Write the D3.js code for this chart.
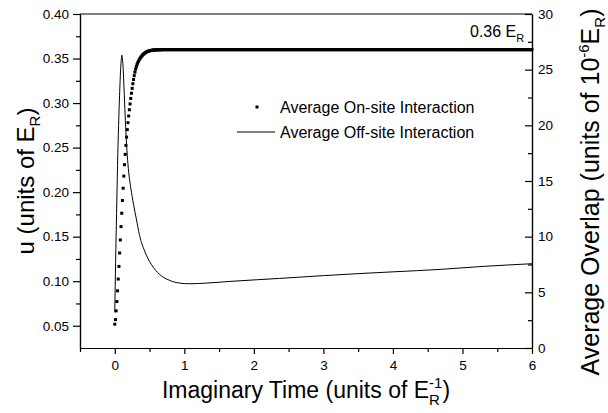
<!DOCTYPE html>
<html>
<head>
<meta charset="utf-8">
<script src="https://cdn.jsdelivr.net/npm/d3@7"></script>
<style>
  html, body { margin: 0; padding: 0; background: #fff; }
  svg { display: block; font-family: "Liberation Sans", Arial, sans-serif; }
</style>
</head>
<body>
<svg id="chart" width="608" height="413"></svg>
<script>
// Imaginary-time sampling step of the on-site series
const tStep = 0.01;

// Average on-site interaction u (E_R), t = 0.00 ... 0.70
const onsiteRamp = [
  0.0517, 0.0569, 0.0667, 0.0772, 0.0892, 0.1024, 0.1166, 0.1317, 0.1463, 0.1613,
  0.1763, 0.1906, 0.2044, 0.2180, 0.2308, 0.2424, 0.2525, 0.2618, 0.2702, 0.2780,
  0.2855, 0.2925, 0.2990, 0.3052, 0.3110, 0.3165, 0.3217, 0.3265, 0.3308, 0.3347,
  0.3380, 0.3408, 0.3432, 0.3452, 0.3469, 0.3484, 0.3497, 0.3509, 0.3520, 0.3530,
  0.3539, 0.3547, 0.3554, 0.3560, 0.3566, 0.3571, 0.3575, 0.3579, 0.3582, 0.3585,
  0.3587, 0.3589, 0.3591, 0.3592, 0.3593, 0.3594, 0.3595, 0.3596, 0.3597, 0.3597,
  0.3598, 0.3598, 0.3598, 0.3599, 0.3599, 0.3599, 0.3599, 0.3599, 0.3600, 0.3600,
  0.3600
];

// Average on-site interaction u (E_R), t = 0.71 ... 6.00 (converged)
const onsitePlateau = [
  // t 0.71 - 1.70
  .36,.36,.36,.36,.36,.36,.36,.36,.36,.36, .36,.36,.36,.36,.36,.36,.36,.36,.36,.36,
  .36,.36,.36,.36,.36,.36,.36,.36,.36,.36, .36,.36,.36,.36,.36,.36,.36,.36,.36,.36,
  .36,.36,.36,.36,.36,.36,.36,.36,.36,.36, .36,.36,.36,.36,.36,.36,.36,.36,.36,.36,
  .36,.36,.36,.36,.36,.36,.36,.36,.36,.36, .36,.36,.36,.36,.36,.36,.36,.36,.36,.36,
  .36,.36,.36,.36,.36,.36,.36,.36,.36,.36, .36,.36,.36,.36,.36,.36,.36,.36,.36,.36,
  // t 1.71 - 2.70
  .36,.36,.36,.36,.36,.36,.36,.36,.36,.36, .36,.36,.36,.36,.36,.36,.36,.36,.36,.36,
  .36,.36,.36,.36,.36,.36,.36,.36,.36,.36, .36,.36,.36,.36,.36,.36,.36,.36,.36,.36,
  .36,.36,.36,.36,.36,.36,.36,.36,.36,.36, .36,.36,.36,.36,.36,.36,.36,.36,.36,.36,
  .36,.36,.36,.36,.36,.36,.36,.36,.36,.36, .36,.36,.36,.36,.36,.36,.36,.36,.36,.36,
  .36,.36,.36,.36,.36,.36,.36,.36,.36,.36, .36,.36,.36,.36,.36,.36,.36,.36,.36,.36,
  // t 2.71 - 3.70
  .36,.36,.36,.36,.36,.36,.36,.36,.36,.36, .36,.36,.36,.36,.36,.36,.36,.36,.36,.36,
  .36,.36,.36,.36,.36,.36,.36,.36,.36,.36, .36,.36,.36,.36,.36,.36,.36,.36,.36,.36,
  .36,.36,.36,.36,.36,.36,.36,.36,.36,.36, .36,.36,.36,.36,.36,.36,.36,.36,.36,.36,
  .36,.36,.36,.36,.36,.36,.36,.36,.36,.36, .36,.36,.36,.36,.36,.36,.36,.36,.36,.36,
  .36,.36,.36,.36,.36,.36,.36,.36,.36,.36, .36,.36,.36,.36,.36,.36,.36,.36,.36,.36,
  // t 3.71 - 4.70
  .36,.36,.36,.36,.36,.36,.36,.36,.36,.36, .36,.36,.36,.36,.36,.36,.36,.36,.36,.36,
  .36,.36,.36,.36,.36,.36,.36,.36,.36,.36, .36,.36,.36,.36,.36,.36,.36,.36,.36,.36,
  .36,.36,.36,.36,.36,.36,.36,.36,.36,.36, .36,.36,.36,.36,.36,.36,.36,.36,.36,.36,
  .36,.36,.36,.36,.36,.36,.36,.36,.36,.36, .36,.36,.36,.36,.36,.36,.36,.36,.36,.36,
  .36,.36,.36,.36,.36,.36,.36,.36,.36,.36, .36,.36,.36,.36,.36,.36,.36,.36,.36,.36,
  // t 4.71 - 5.70
  .36,.36,.36,.36,.36,.36,.36,.36,.36,.36, .36,.36,.36,.36,.36,.36,.36,.36,.36,.36,
  .36,.36,.36,.36,.36,.36,.36,.36,.36,.36, .36,.36,.36,.36,.36,.36,.36,.36,.36,.36,
  .36,.36,.36,.36,.36,.36,.36,.36,.36,.36, .36,.36,.36,.36,.36,.36,.36,.36,.36,.36,
  .36,.36,.36,.36,.36,.36,.36,.36,.36,.36, .36,.36,.36,.36,.36,.36,.36,.36,.36,.36,
  .36,.36,.36,.36,.36,.36,.36,.36,.36,.36, .36,.36,.36,.36,.36,.36,.36,.36,.36,.36,
  // t 5.71 - 6.00
  .36,.36,.36,.36,.36,.36,.36,.36,.36,.36, .36,.36,.36,.36,.36,.36,.36,.36,.36,.36,
  .36,.36,.36,.36,.36,.36,.36,.36,.36,.36
];

// Average off-site interaction (overlap), units of 1e-6 E_R
const offsiteT = [
  0, 0.012, 0.026, 0.040, 0.055, 0.069, 0.084, 0.095, 0.102, 0.110,
  0.120, 0.130, 0.145, 0.160, 0.180, 0.200, 0.230, 0.270, 0.310, 0.357,
  0.430, 0.526, 0.646, 0.790, 0.934, 1.080, 1.320, 1.650, 2.040, 2.370,
  3.000, 3.500, 4.000, 4.680, 5.300, 6.000
];
const offsiteV = [
  3.2, 7.7, 12.1, 16.4, 20.0, 22.7, 25.0, 26.0, 26.3, 26.0,
  25.2, 23.8, 21.5, 19.4, 17.3, 15.8, 14.4, 12.9, 11.6, 10.1,
  8.7, 7.5, 6.6, 6.07, 5.83, 5.77, 5.83, 5.98, 6.13, 6.25,
  6.5, 6.68, 6.84, 7.06, 7.33, 7.57
];

// Axis ticks
const xMajor = [0, 1, 2, 3, 4, 5, 6];
const xMinor = [-0.5, 0.5, 1.5, 2.5, 3.5, 4.5, 5.5];
const uMajor = [0.05, 0.10, 0.15, 0.20, 0.25, 0.30, 0.35, 0.40];
const uMinor = [0.075, 0.125, 0.175, 0.225, 0.275, 0.325, 0.375];
const ovMajor = [0, 5, 10, 15, 20, 25, 30];
const ovMinor = [2.5, 7.5, 12.5, 17.5, 22.5, 27.5];

const plateauLabel = "0.36";
const legendOnsite = "Average On-site Interaction";
const legendOffsite = "Average Off-site Interaction";

// ---- layout ----
const plot = { left: 80, right: 532, top: 14, bottom: 348 };
const svg = d3.select("#chart");
svg.append("rect").attr("width", 608).attr("height", 413).attr("fill", "#fff");

const x = d3.scaleLinear().domain([-0.5, 6]).range([plot.left, plot.right]);
const yU = d3.scaleLinear().domain([0.025, 0.40]).range([plot.bottom, plot.top]);
const yOv = d3.scaleLinear().domain([0, 30]).range([plot.bottom, plot.top]);

const onsite = onsiteRamp.concat(onsitePlateau).map((u, i) => ({ t: i * tStep, u }));
const offsite = offsiteT.map((t, i) => ({ t, v: offsiteV[i] }));

const axisStroke = 1.2;
const tickFont = 13.5;

function styleAxis(g) {
  g.selectAll("path.domain").attr("stroke", "#000").attr("stroke-width", axisStroke);
  g.selectAll(".tick line").attr("stroke", "#000").attr("stroke-width", axisStroke);
  g.selectAll(".tick text")
    .attr("fill", "#000")
    .attr("font-size", tickFont)
    .attr("font-family", '"Liberation Sans", Arial, sans-serif');
}

// top frame line
svg.append("line")
  .attr("x1", plot.left).attr("x2", plot.right)
  .attr("y1", plot.top).attr("y2", plot.top)
  .attr("stroke", "#000").attr("stroke-width", axisStroke);

// bottom axis
svg.append("g")
  .attr("transform", `translate(0,${plot.bottom})`)
  .call(d3.axisBottom(x).tickValues(xMinor).tickSize(4).tickFormat("").tickSizeOuter(0))
  .call(styleAxis);
svg.append("g")
  .attr("transform", `translate(0,${plot.bottom})`)
  .call(d3.axisBottom(x).tickValues(xMajor).tickSize(6).tickPadding(6).tickFormat(d3.format("d")).tickSizeOuter(0))
  .call(styleAxis);

// left axis
svg.append("g")
  .attr("transform", `translate(${plot.left},0)`)
  .call(d3.axisLeft(yU).tickValues(uMinor).tickSize(4).tickFormat("").tickSizeOuter(0))
  .call(styleAxis);
svg.append("g")
  .attr("transform", `translate(${plot.left},0)`)
  .call(d3.axisLeft(yU).tickValues(uMajor).tickSize(7).tickPadding(4).tickFormat(d3.format(".2f")).tickSizeOuter(0))
  .call(styleAxis);

// right axis, ticks pointing into the plot
const rMinor = svg.append("g")
  .attr("transform", `translate(${plot.right},0)`)
  .call(d3.axisRight(yOv).tickValues(ovMinor).tickSize(4).tickFormat("").tickSizeOuter(0))
  .call(styleAxis);
rMinor.selectAll(".tick line").attr("x2", -4);
const rMajor = svg.append("g")
  .attr("transform", `translate(${plot.right},0)`)
  .call(d3.axisRight(yOv).tickValues(ovMajor).tickSize(7).tickFormat(d3.format("d")).tickSizeOuter(0))
  .call(styleAxis);
rMajor.selectAll(".tick line").attr("x2", -7);
rMajor.selectAll(".tick text").attr("x", 6);

// off-site interaction curve (right axis)
svg.append("path")
  .datum(offsite)
  .attr("fill", "none")
  .attr("stroke", "#000")
  .attr("stroke-width", 1)
  .attr("d", d3.line().x(d => x(d.t)).y(d => yOv(d.v)).curve(d3.curveMonotoneX));

// on-site interaction points (left axis)
const sq = 3;
svg.append("g").selectAll("rect")
  .data(onsite)
  .join("rect")
  .attr("x", d => x(d.t) - sq / 2)
  .attr("y", d => yU(d.u) - sq / 2)
  .attr("width", sq).attr("height", sq)
  .attr("fill", "#000");

// plateau annotation
const ann = svg.append("text")
  .attr("x", 470).attr("y", 37)
  .attr("font-size", 16).attr("fill", "#000");
ann.append("tspan").text(plateauLabel + " E");
ann.append("tspan").attr("font-size", 11).attr("dy", 5).text("R");

// legend
const lg = svg.append("g");
lg.append("rect")
  .attr("x", 257 - sq / 2).attr("y", 107 - sq / 2)
  .attr("width", sq).attr("height", sq).attr("fill", "#000");
lg.append("text").attr("x", 280).attr("y", 113)
  .attr("font-size", 16).attr("fill", "#000").text(legendOnsite);
lg.append("line")
  .attr("x1", 237).attr("x2", 275).attr("y1", 132).attr("y2", 132)
  .attr("stroke", "#000").attr("stroke-width", 1);
lg.append("text").attr("x", 280).attr("y", 138)
  .attr("font-size", 16).attr("fill", "#000").text(legendOffsite);

// axis titles
const subSize = 15;

const xt = svg.append("text")
  .attr("x", (plot.left + plot.right) / 2).attr("y", 398)
  .attr("text-anchor", "middle").attr("font-size", 23).attr("fill", "#000");
xt.append("tspan").text("Imaginary Time (units of E");
xt.append("tspan").attr("font-size", subSize).attr("dy", -10).text("-1");
xt.append("tspan").attr("font-size", subSize).attr("dx", -13.3).attr("dy", 17).text("R");
xt.append("tspan").attr("dx", 2.5).attr("dy", -7).text(")");

const lt = svg.append("text")
  .attr("transform", `translate(34,${(plot.top + plot.bottom) / 2}) rotate(-90)`)
  .attr("text-anchor", "middle").attr("font-size", 24).attr("fill", "#000");
lt.append("tspan").text("u (units of E");
lt.append("tspan").attr("font-size", subSize).attr("dy", 6).text("R");
lt.append("tspan").attr("dy", -6).text(")");

const rt = svg.append("text")
  .attr("transform", `translate(599,192) rotate(-90)`)
  .attr("text-anchor", "middle").attr("font-size", 25).attr("fill", "#000");
rt.append("tspan").text("Average Overlap (units of 10");
rt.append("tspan").attr("font-size", subSize).attr("dy", -10).text("-6");
rt.append("tspan").attr("dy", 10).text("E");
rt.append("tspan").attr("font-size", subSize).attr("dy", 6).text("R");
rt.append("tspan").attr("dy", -6).text(")");
</script>
</body>
</html>
